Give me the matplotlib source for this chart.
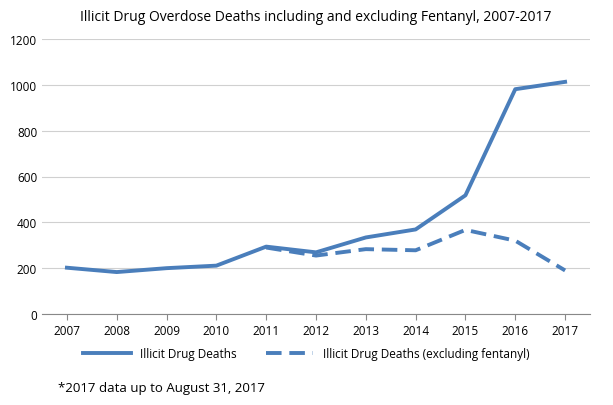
import matplotlib
matplotlib.use("Agg")
import matplotlib.pyplot as plt

years = ["2007","2008","2009","2010","2011","2012","2013","2014","2015","2016","2017"]
all_deaths = [202,183,200,211,294,269,334,369,518,981,1013]
excl_years = ["2011","2012","2013","2014","2015","2016","2017"]
excl_deaths = [290,255,283,278,367,320,190]

plt.rcParams['font.family'] = ['Open Sans', 'DejaVu Sans']
fig = plt.figure(figsize=(6.13,4.06), dpi=100)
ax = fig.add_axes([42/613, 1-315/406, 548/613, 275/406])
c = '#4a7ebb'
x = list(range(len(years)))
ax.plot(x, all_deaths, color=c, lw=2.8, label='Illicit Drug Deaths')
xe = [years.index(y) for y in excl_years]
ax.plot(xe, excl_deaths, color=c, lw=2.8, ls=(0,(4,2)), label='Illicit Drug Deaths (excluding fentanyl)')
ax.set_xlim(-0.5, len(years)-0.5)
ax.set_ylim(0,1200)
ax.set_yticks(range(0,1201,200))
ax.set_xticks(x)
ax.set_xticklabels(years)
ax.tick_params(labelsize=8.5, length=0)
ax.tick_params(axis='x', length=4, color='#888888')
ax.grid(axis='y', color='#d0d0d0', lw=0.8)
ax.set_axisbelow(True)
for s in ['top','right','left']:
    ax.spines[s].set_visible(False)
ax.spines['bottom'].set_color('#888888')
ax.set_title('Illicit Drug Overdose Deaths including and excluding Fentanyl, 2007-2017', fontsize=10, pad=14)
fig.legend(loc='center', bbox_to_anchor=(0.5, 1-355/406), ncol=2, frameon=False, fontsize=8.5, handlelength=4, columnspacing=2.5)
fig.text(58/613, 1-389/406, '*2017 data up to August 31, 2017', fontsize=9.5, va='center')
fig.savefig('out.png', dpi=100)
